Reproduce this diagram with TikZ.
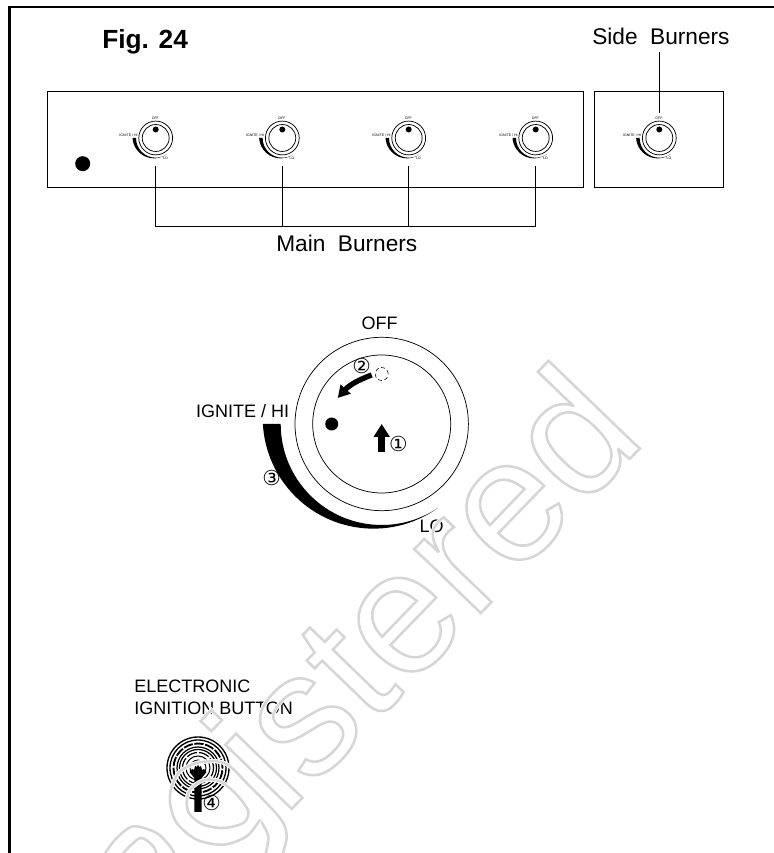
\documentclass[tikz,border=0pt]{standalone}
\usepackage{fontspec}
\setmainfont{Liberation Sans}
\newfontfamily\digitfont{DejaVu Sans}
\usetikzlibrary{positioning,arrows.meta}
\newcommand{\wmarkpen}[2]{\special{pdf:code 1 Tr #1 w #2 G}}
\tikzset{
  lbl/.style={font=\fontsize{13.5}{15}\selectfont,inner sep=0pt},
  biglbl/.style={font=\fontsize{17}{19}\selectfont,inner sep=0pt},
  circnum/.style={font=\digitfont\fontsize{15.5}{16}\selectfont,inner sep=0pt},
  panel/.style={draw,line width=0.7pt},
  leader/.style={draw,line width=0.7pt},
  wmark/.style={font=\fontsize{131}{131}\selectfont,inner sep=0pt,rotate=46,anchor=base east},
  wmarkcurve/.style={draw=black!16,line width=1.9pt,preaction={draw=white,line width=3.2pt}},
  pics/dial/.style={code={
    \draw[line width=0.55pt] (0,0) circle[radius=86.7] (0,0) circle[radius=69];
    \fill (-118,0) -- (-101,0) arc[start angle=180,end angle=304,radius=101]
      arc[start angle=305.8,end angle=183,radius=110.7] -- cycle;
    \node[lbl,transform shape,anchor=base] (-off) at (-2,94) {OFF};
    \node[lbl,transform shape,anchor=base east] (-hi) at (-92.4,6.7) {IGNITE / HI};
    \node[lbl,transform shape,anchor=base] (-lo) at (50,-109) {LO};
  }}
}
\begin{document}
\begin{tikzpicture}[x=0.75pt,y=0.75pt]
\useasboundingbox (0,0) rectangle (774,853);
% frame
\draw[line width=1.6pt] (9.5,0) -- (9.5,846) -- (774,846);
\node[font=\bfseries\fontsize{19.7}{22}\selectfont,inner sep=0pt,anchor=base west] (figlabel) at (102,804) {Fig. 24};
% control panels
\draw[panel] (47.5,666) rectangle (583,761.5);
\draw[panel] (594.7,666) rectangle (723,761.5);
\fill (82.7,689.3) circle[radius=7.5];
\foreach \kx/\kn in {155.7/A,282.3/B,408.7/C,535.7/D,659.3/E}{
  \pic[scale=0.195] (knob\kn) at (\kx,715) {dial};
  \fill (\kx,723.5) circle[radius=3];
  \coordinate (foot\kn) at (\kx,687);
  \coordinate (head\kn) at (\kx,740);
}
% leaders
\coordinate (busA) at (155.7,626.3);
\coordinate (busB) at (282.3,626.3);
\coordinate (busC) at (408.7,626.3);
\coordinate (busD) at (535.7,626.3);
\draw[leader] (footA) -- (busA) -- (busD) -- (footD);
\draw[leader] (footB) -- (busB);
\draw[leader] (footC) -- (busC);
\node[biglbl,anchor=base west] (mainlabel) at (276,601) {Main\ \ Burners};
\node[biglbl,anchor=base west] (sidelabel) at (592,808) {Side\ \ Burners};
\coordinate (sidetop) at (659.3,801);
\draw[leader] (sidetop) -- (headE);
% large dial
\begin{scope}[shift={(381.7,429)}]
\pic (big) at (0,0) {dial};
\fill (-50,0) circle[radius=6.5];
\draw[densely dashed,line width=0.4pt] (0,50) circle[radius=6.5];
\coordinate (pushfrom) at (0,-28);
\coordinate (pushto) at (0,0);
\draw[line width=5.3pt,-{Triangle[width=15.5*0.75pt,length=13*0.75pt]}] (pushfrom) -- (pushto);
\coordinate (turnfrom) at (-10,49);
\coordinate (turnto) at (-44,26);
\draw[line width=4pt,-{Triangle[width=13*0.75pt,length=12*0.75pt]}] (turnfrom) to[bend right=14] (turnto);
\node[circnum] (stepone) at (16.7,-20) {①};
\node[circnum] (steptwo) at (-20,58) {②};
\node[circnum] (stepthree) at (-110,-54) {③};
\end{scope}
% ignition button
\node[lbl,anchor=base west] (btnA) at (134,160) {ELECTRONIC};
\node[lbl,anchor=base west] (btnB) at (134,138) {IGNITION BUTTON};
\begin{scope}[shift={(198,85)}]
\draw[line width=1pt] (0,0) circle[radius=31] (0,0) circle[radius=28];
\draw[line width=1.4pt,dash pattern=on 7pt off 1.2pt] (0,0) circle[radius=24.5];
\draw[line width=0.9pt] (0,0) circle[radius=21] (0,0) circle[radius=18.5];
\draw[line width=0.9pt,dash pattern=on 8pt off 1.5pt] (0,0) circle[radius=15.5];
\draw[line width=0.8pt] (0,0) circle[radius=12];
\draw[line width=0.7pt] (0,0) circle[radius=8];
\fill (-8.5,-4) -- (-6,-1) -- (-4,-2) -- (-3,2) -- (-1,1) -- (0,4) -- (1,1) -- (3,2)
  -- (4,-2) -- (6,-1) -- (8.5,-4) -- (3.7,-10) -- (3.7,-44) -- (-3.7,-44) -- (-3.7,-10) -- cycle;
\node[circnum] (stepfour) at (13.7,-35) {④};
\end{scope}
% overlay
\node[wmark] (wmarkline) at (648,413) {\color{white}\rlap{\wmarkpen{3.2}{1}istered}\wmarkpen{1.9}{0.84}istered\special{pdf:code 0 Tr}};
\draw[wmarkcurve] plot[smooth] coordinates {(260,33.3) (268.3,16.7) (265,-3.3)};
\draw[wmarkcurve] plot[smooth] coordinates {(260,33.3) (246.7,16.7) (223.3,8.3) (196.7,13.3) (176.7,30) (170,50) (171.7,66.7) (180,81.7) (196.7,90) (216.7,91.7) (230,86.7) (246.7,70) (280,35) (286.7,16.7) (281.7,-3.3)};
\draw[wmarkcurve] plot[smooth cycle] coordinates {(186.7,50) (190,63.3) (203.3,72.7) (220,71.7) (236.7,58.3) (248.3,41.7) (243.3,30) (223.3,25) (203.3,28.3) (190,38.3)};
\draw[wmarkcurve] plot[smooth] coordinates {(105,0) (116.7,15) (133.3,26.7) (156.7,20) (170,6.7) (175,-1.7)};
\draw[wmarkcurve] plot[smooth] coordinates {(121.7,-1.7) (140,15) (153.3,6.7) (156.7,-1.7)};
\end{tikzpicture}
\end{document}
